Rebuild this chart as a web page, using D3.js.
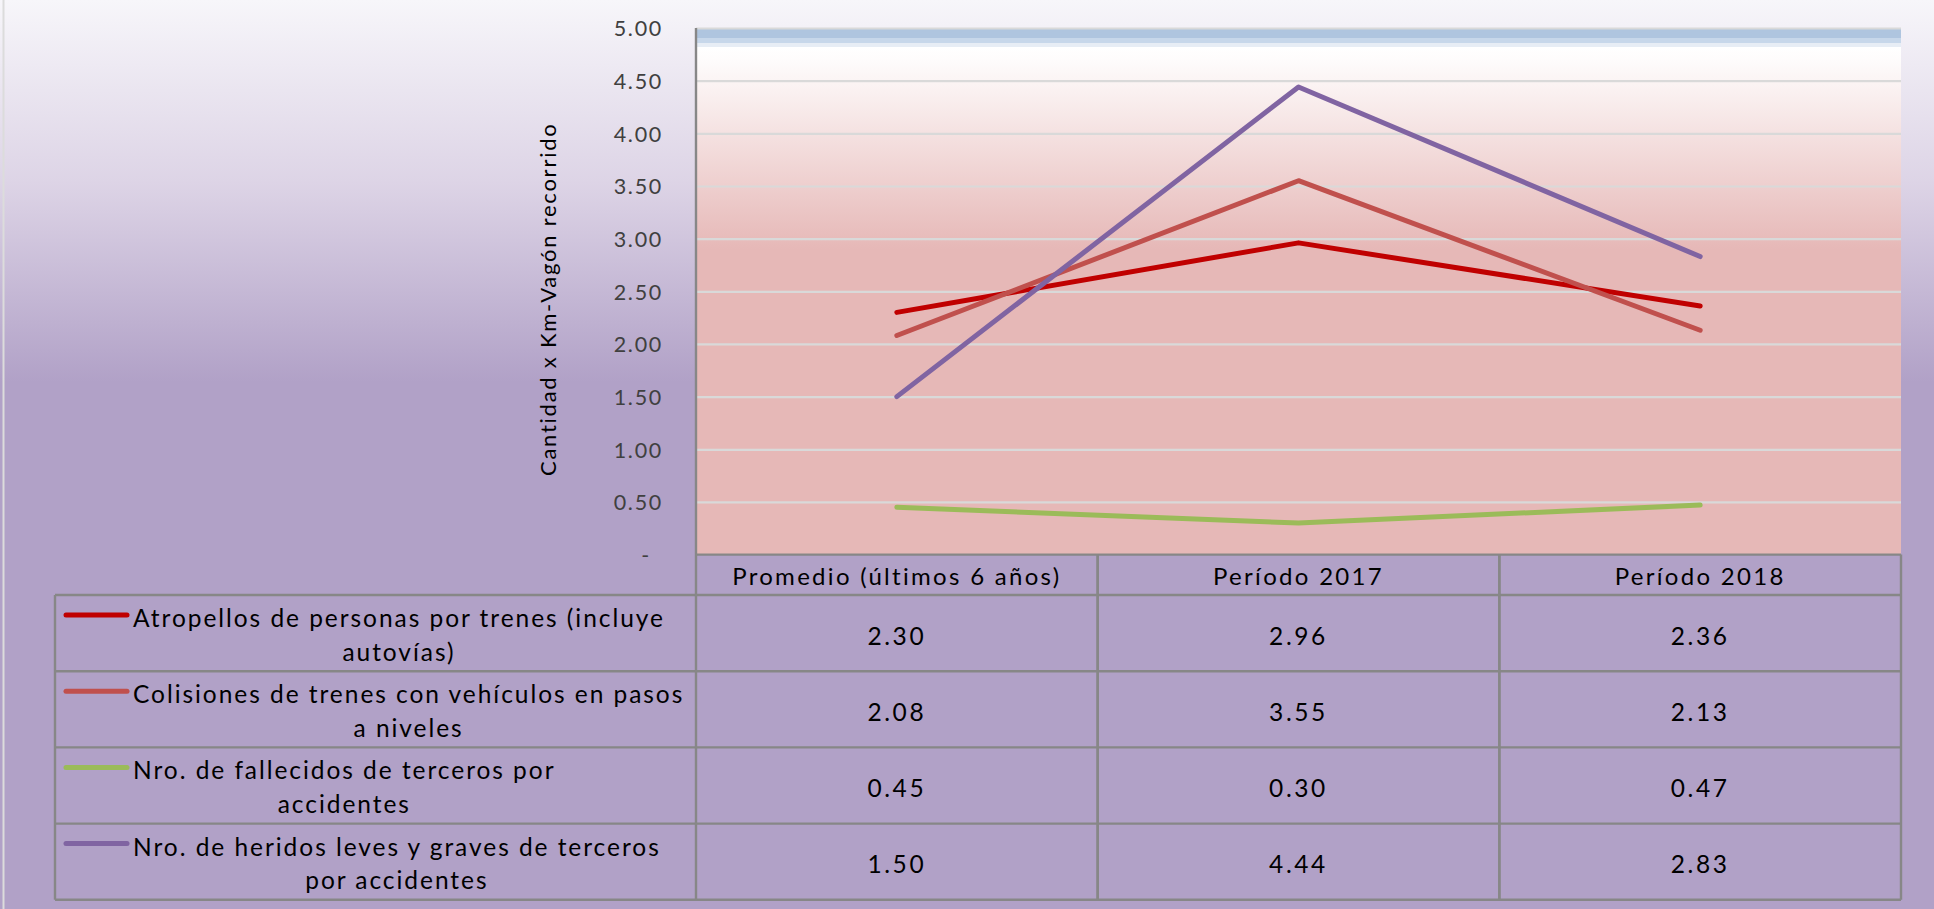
<!DOCTYPE html>
<html>
<head>
<meta charset="utf-8">
<script src="https://cdn.jsdelivr.net/npm/d3@7/dist/d3.min.js"></script>
<style>
  html, body { margin: 0; padding: 0; overflow: hidden; background: #b1a1c7; }
  svg { display: block; font-family: Lato, "Open Sans", sans-serif; }
</style>
</head>
<body>
<svg id="chart" width="1934" height="909"></svg>
<script>
// ---- data ----
const periods = ["Promedio (últimos 6 años)", "Período 2017", "Período 2018"];
const seriesLabels = [
  ["Atropellos de personas por trenes (incluye", "autovías)"],
  ["Colisiones de trenes con vehículos en pasos", "a niveles"],
  ["Nro. de fallecidos de terceros por", "accidentes"],
  ["Nro. de heridos leves y graves de terceros", "por accidentes"]
];
const atropellos = [2.30, 2.96, 2.36];
const colisiones = [2.08, 3.55, 2.13];
const fallecidos = [0.45, 0.30, 0.47];
const heridos    = [1.50, 4.44, 2.83];
const yTickValues = [0, 0.5, 1, 1.5, 2, 2.5, 3, 3.5, 4, 4.5, 5];
const yTitle = "Cantidad x Km-Vagón recorrido";
const seriesColors = ["#c00000", "#c0504d", "#9bbb59", "#8064a2"];

const series = [atropellos, colisiones, fallecidos, heridos].map((values, i) => ({
  label: seriesLabels[i], values, color: seriesColors[i]
}));

// ---- layout ----
const W = 1934, H = 909;
const plot = { left: 696, right: 1901, top: 28, bottom: 554.6 };
const table = { left: 55, headerBottom: 595, rowH: 76.2 };
const gridColor = "#d9d9d9";
const borderColor = "#878787";

const svg = d3.select("#chart");
const defs = svg.append("defs");

// page background: pale lavender fading into lilac
const bg = defs.append("linearGradient").attr("id", "bgGrad")
  .attr("x1", 0).attr("y1", 0).attr("x2", 0).attr("y2", 1);
[[0, "#f7f6fa"], [0.2, "#ddd4e6"], [0.42, "#b1a1c7"], [1, "#b1a1c7"]]
  .forEach(([o, c]) => bg.append("stop").attr("offset", o).attr("stop-color", c));

// plot area: blue cap, white, then rose
const pg = defs.append("linearGradient").attr("id", "plotGrad")
  .attr("x1", 0).attr("y1", 0).attr("x2", 0).attr("y2", 1);
[[0, "#afc5df"], [0.019, "#afc5df"], [0.0195, "#c7d7ea"], [0.028, "#c7d7ea"],
 [0.0285, "#e7edf5"], [0.036, "#e7edf5"], [0.037, "#ffffff"], [0.06, "#fefcfc"],
 [0.42, "#e6b8b7"], [1, "#e6b8b7"]]
  .forEach(([o, c]) => pg.append("stop").attr("offset", o).attr("stop-color", c));

svg.append("rect").attr("width", W).attr("height", H).attr("fill", "url(#bgGrad)");
svg.append("line").attr("x1", 3.5).attr("x2", 3.5).attr("y1", 0).attr("y2", H)
  .attr("stroke", "#dcdcdc").attr("stroke-width", 2);

// ---- scales ----
const x = d3.scaleBand().domain(periods).range([plot.left, plot.right]).padding(0);
const cx = p => x(p) + x.bandwidth() / 2;
const y = d3.scaleLinear().domain([0, 5]).range([plot.bottom, plot.top]);

svg.append("rect")
  .attr("x", plot.left).attr("y", y(5))
  .attr("width", plot.right - plot.left).attr("height", y(0) - y(5))
  .attr("fill", "url(#plotGrad)");

// gridlines
const grid = svg.append("g").attr("transform", `translate(${plot.left},0)`)
  .call(d3.axisLeft(y).tickValues(yTickValues.filter(v => v > 0))
    .tickSize(-(plot.right - plot.left)).tickFormat(""));
grid.select(".domain").remove();
grid.selectAll(".tick line").attr("stroke", gridColor).attr("stroke-width", 2.2);

// y tick labels
const yAxis = svg.append("g").attr("transform", `translate(${plot.left},0)`)
  .call(d3.axisLeft(y).tickValues(yTickValues).tickSize(0).tickPadding(33)
    .tickFormat(v => v === 0 ? "-" : v.toFixed(2)));
yAxis.select(".domain").remove();
yAxis.selectAll(".tick text")
  .attr("font-family", "Lato, 'Open Sans', sans-serif")
  .attr("font-size", 21.5).attr("fill", "#404040")
  .style("letter-spacing", "1.7px")
  .attr("dx", v => v === 0 ? -12 : 0)
  .attr("dy", "0.36em");

// y title
svg.append("text")
  .attr("transform", `translate(547,${(plot.top + plot.bottom) / 2 + 8}) rotate(-90)`)
  .attr("text-anchor", "middle").attr("dominant-baseline", "central")
  .attr("font-size", 22).attr("fill", "#000")
  .style("letter-spacing", "1.75px")
  .text(yTitle);

// series lines
const line = d3.line().x((d, i) => cx(periods[i])).y(d => y(d));
svg.append("g").selectAll("path").data(series).join("path")
  .attr("d", d => line(d.values))
  .attr("fill", "none").attr("stroke", d => d.color)
  .attr("stroke-width", 5).attr("stroke-linecap", "round").attr("stroke-linejoin", "round");

// ---- data table ----
const tableBottom = table.headerBottom + table.rowH * series.length;
const rowTop = i => table.headerBottom + i * table.rowH;
const tg = svg.append("g").attr("stroke", borderColor).attr("stroke-width", 2.4).attr("fill", "none");

// horizontal rules
tg.append("line").attr("x1", plot.left).attr("x2", plot.right).attr("y1", y(0)).attr("y2", y(0));
d3.range(series.length + 1).forEach(i => {
  tg.append("line").attr("x1", table.left).attr("x2", plot.right)
    .attr("y1", rowTop(i)).attr("y2", rowTop(i));
});
// vertical rules
tg.append("line").attr("x1", table.left).attr("x2", table.left)
  .attr("y1", table.headerBottom).attr("y2", tableBottom);
tg.append("line").attr("x1", plot.left).attr("x2", plot.left)
  .attr("y1", y(5)).attr("y2", tableBottom);
periods.forEach(p => {
  const xr = x(p) + x.bandwidth();
  tg.append("line").attr("x1", xr).attr("x2", xr).attr("y1", y(0)).attr("y2", tableBottom);
});
periods.slice(1).forEach(p => {
  tg.append("line").attr("x1", x(p)).attr("x2", x(p)).attr("y1", y(0)).attr("y2", tableBottom);
});

// header labels
svg.append("g").selectAll("text").data(periods).join("text")
  .attr("x", d => cx(d)).attr("y", 585)
  .attr("text-anchor", "middle").attr("font-size", 24).attr("fill", "#000")
  .style("letter-spacing", "2.3px")
  .text(d => d);

// value cells
series.forEach((s, i) => {
  svg.append("g").selectAll("text").data(s.values).join("text")
    .attr("x", (d, j) => cx(periods[j]))
    .attr("y", rowTop(i) + table.rowH / 2 + 11.5)
    .attr("text-anchor", "middle").attr("font-size", 24.5).attr("fill", "#000")
    .style("letter-spacing", "2.6px")
    .text(d => d.toFixed(2));
});

// legend cells: key line + centred two-line label
const textLeft = 133;
series.forEach((s, i) => {
  const top = rowTop(i);
  svg.append("line")
    .attr("x1", 66).attr("x2", 127).attr("y1", top + 20).attr("y2", top + 20)
    .attr("stroke", s.color).attr("stroke-width", 5).attr("stroke-linecap", "round");
  const first = svg.append("text")
    .attr("x", textLeft).attr("y", top + 32)
    .attr("font-size", 24.5).attr("fill", "#000")
    .style("letter-spacing", "1.95px")
    .text(s.label[0]);
  const w = first.node().getComputedTextLength();
  svg.append("text")
    .attr("x", textLeft + w / 2).attr("y", top + 32 + 33.5)
    .attr("text-anchor", "middle")
    .attr("font-size", 24.5).attr("fill", "#000")
    .style("letter-spacing", "1.95px")
    .text(s.label[1]);
});
</script>
</body>
</html>
